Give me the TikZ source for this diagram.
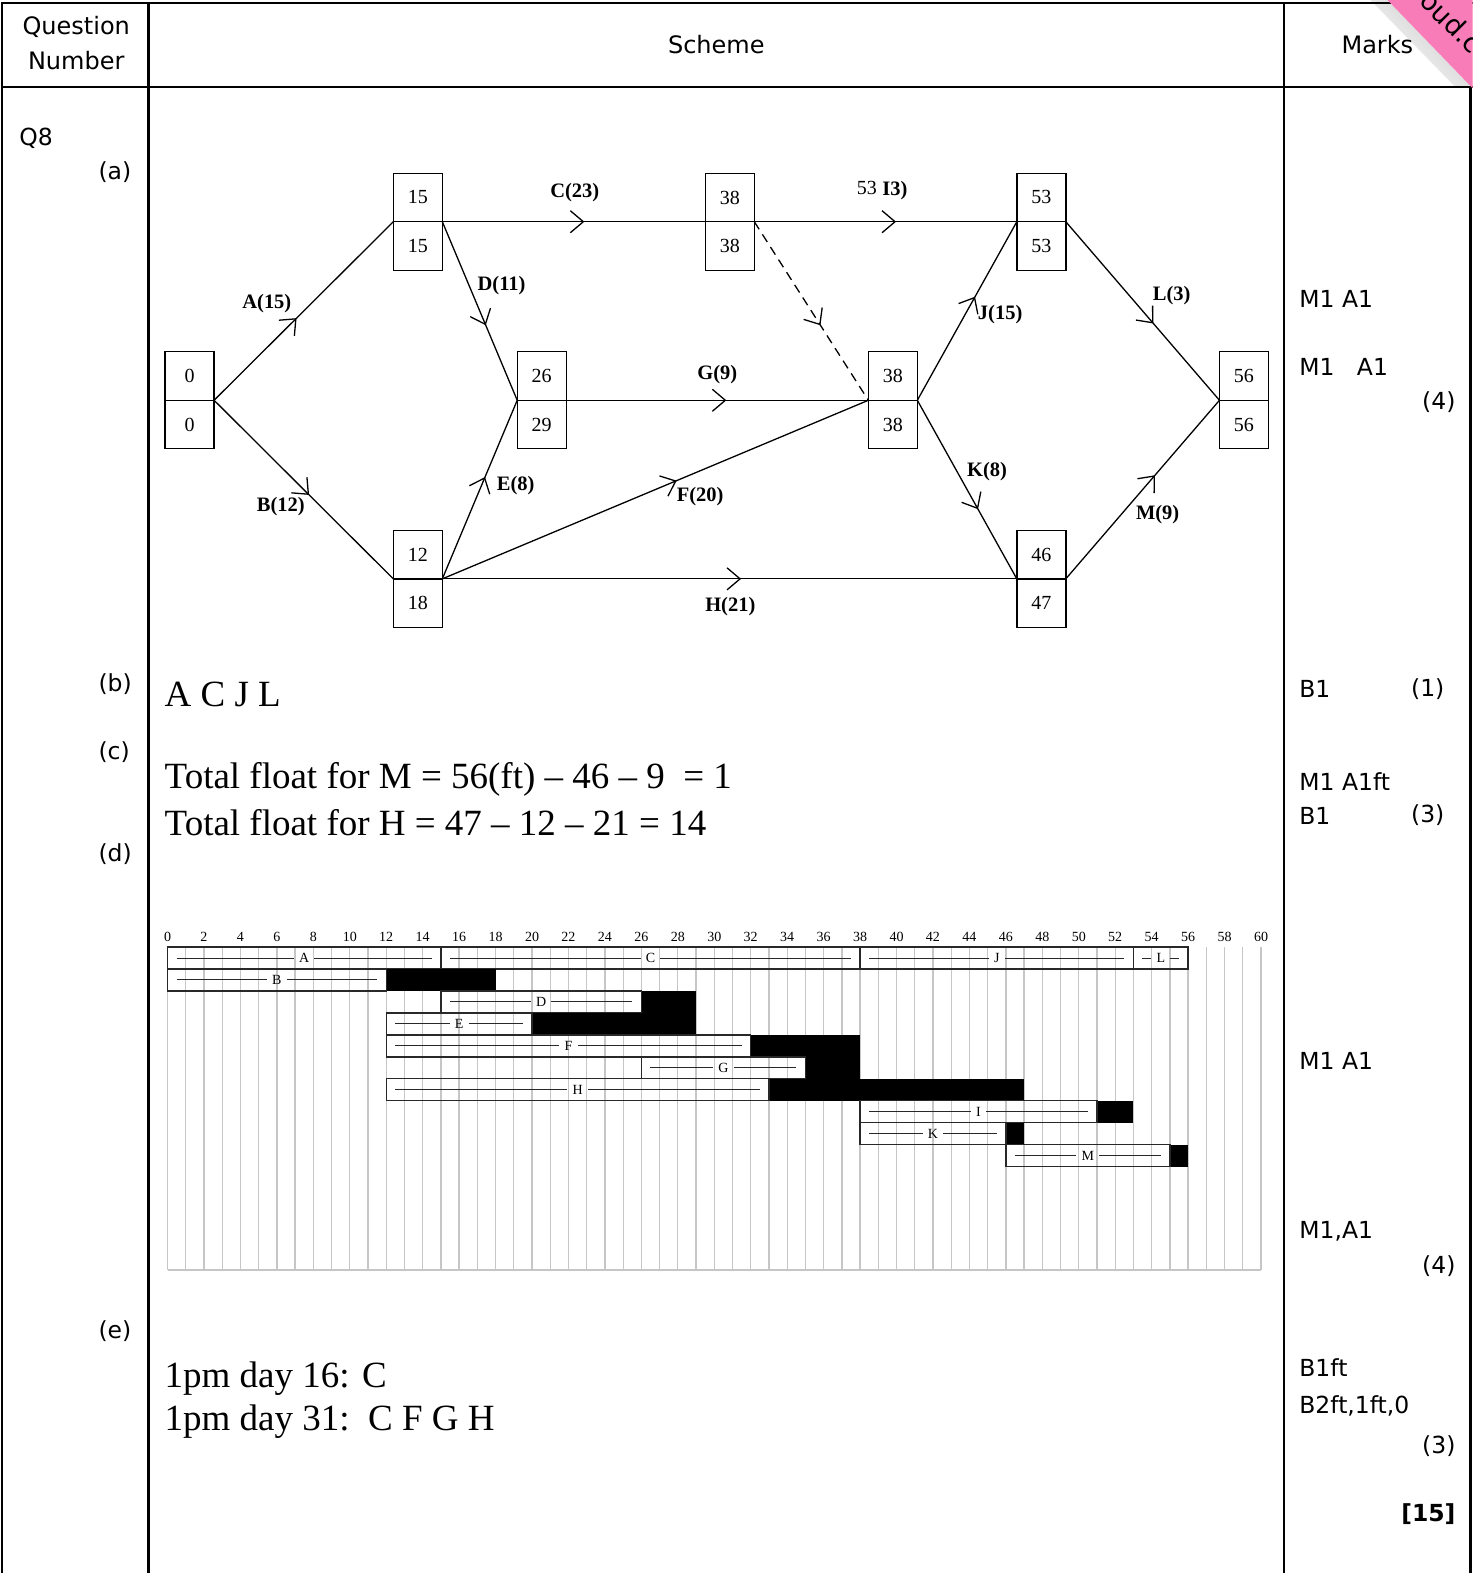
\documentclass[tikz,border=0pt]{standalone}
\usepackage{fontspec}
\setmainfont{Liberation Serif}
\setsansfont{DejaVu Sans}
\usetikzlibrary{arrows.meta,decorations.markings}
\definecolor{pinkw}{RGB}{248,124,184}
\definecolor{gridc}{RGB}{198,198,198}
\definecolor{barc}{RGB}{40,40,40}
\newcommand\evnode[5]{%
  \node[evbox, anchor=south] (#1t) at (#2,#3) {#4};
  \node[evbox, anchor=north] (#1b) at (#2,#3) {#5};
}
\newcommand\gbar[5]{%
  \pgfmathsetmacro\gya{944+21.9*(#1-1)}%
  \pgfmathsetmacro\gyb{\gya+21.9}%
  \pgfmathsetmacro\gym{\gya+10.95}%
  \pgfmathsetmacro\gxa{167+18.167*#2}%
  \pgfmathsetmacro\gxb{167+18.167*#3}%
  \pgfmathsetmacro\gxc{167+18.167*#5}%
  \pgfmathsetmacro\gxm{(\gxa+\gxb)/2}%
  \fill[black] (\gxb,\gya) rectangle (\gxc,\gyb);
  \draw[barbox] (\gxa,\gya) rectangle (\gxb,\gyb);
  \node[barlbl] (g#4) at (\gxm,\gym) {#4};
  \draw[barln] (\gxa+9,\gym) -- (g#4.west);
  \draw[barln] (g#4.east) -- (\gxb-9,\gym);
}
\begin{document}
\begin{tikzpicture}[x=1.0034pt,y=-1.0034pt,
  tbl/.style={line width=2.4pt},
  evbox/.style={draw, line width=1.4pt, minimum width=49pt, minimum height=48.5pt, inner sep=0pt, outer sep=0pt, font=\fontsize{20}{20}\selectfont},
  act/.style={line width=1.3pt, postaction=decorate,
    decoration={markings, mark=at position #1 with {\arrow{Straight Barb[length=13pt,width=22pt]}}}},
  act/.default=0.55,
  lbl/.style={font=\bfseries\fontsize{20.5}{20.5}\selectfont, inner sep=0pt},
  hdr/.style={font=\sffamily\fontsize{24}{30}\selectfont, inner sep=0pt},
  mk/.style={font=\sffamily\fontsize{23.5}{28}\selectfont, inner sep=0pt, anchor=west},
  mkr/.style={mk, anchor=east},
  ans/.style={font=\fontsize{37}{44}\selectfont, inner sep=0pt, anchor=west},
  gridln/.style={draw=gridc, line width=1.3pt},
  barbox/.style={draw=barc, line width=1.3pt},
  barln/.style={draw=barc, line width=1pt},
  barlbl/.style={font=\fontsize{14}{14}\selectfont, inner sep=5pt},
  gnum/.style={font=\fontsize{14}{14}\selectfont, inner sep=0pt}
]
\useasboundingbox (0,0) rectangle (1468,1568);
% ---------- corner shadow (behind everything) ----------
\shade[shading=axis, top color=black!22, bottom color=white, shading angle=-45]
  (1366,0) -- (1383,0) -- (1466,86) -- (1450,86) -- cycle;
% ---------- table ----------
\draw[tbl] (1,3) -- (1468,3);
\draw[tbl] (2,2) -- (2,1568);
\draw[tbl] (148,2) -- (148,1568);
\draw[tbl] (1280,2) -- (1280,1568);
\draw[tbl] (1,87) -- (1468,87);
\draw[tbl] (1466,87) -- (1466,1568);
% header
\node[hdr] (hq) at (76,27) {Question};
\node[hdr] (hn) at (76,60) {Number};
\node[hdr] (hs) at (714,44) {Scheme};
\node[hdr] (hm) at (1373,44) {Marks};
% part labels
\node[mk] (q8) at (19,138) {Q8};
\node[mk] (pa) at (98,172) {(a)};
\node[mk] (pb) at (98,682) {(b)};
\node[mk] (pc) at (98,750) {(c)};
\node[mk] (pd) at (98,851) {(d)};
\node[mk] (pe) at (98,1327) {(e)};
% ---------- network ----------
\evnode{n0}{189}{399}{0}{0}
\evnode{n15}{416.5}{221}{15}{15}
\evnode{n38a}{727.5}{221}{38}{38}
\evnode{n53}{1038}{221}{53}{53}
\evnode{n26}{540}{399}{26}{29}
\evnode{n38b}{890}{399}{38}{38}
\evnode{n56}{1240}{399}{56}{56}
\evnode{n12}{416.5}{577}{12}{18}
\evnode{n46}{1038}{577}{46}{47}
\draw[act=0.46] (n0t.south east) -- (n15t.south west);
\draw[act=0.53] (n0t.south east) -- (n12t.south west);
\draw[act=0.54] (n15t.south east) -- (n38at.south west);
\draw[act=0.58] (n15t.south east) -- (n26t.south west);
\draw[act=0.57] (n12t.south east) -- (n26t.south west);
\draw[act=0.55] (n12t.south east) -- (n38bt.south west);
\draw[act=0.52] (n12t.south east) -- (n46t.south west);
\draw[act=0.53] (n26t.south east) -- (n38bt.south west);
\draw[act=0.58, dash pattern=on 9pt off 6pt] (n38at.south east) -- (n38bt.south west);
\draw[act=0.54] (n38at.south east) -- (n53t.south west);
\draw[act=0.58] (n38bt.south east) -- (n53t.south west);
\draw[act=0.61] (n38bt.south east) -- (n46t.south west);
\draw[act=0.57] (n53t.south east) -- (n56t.south west);
\draw[act=0.58] (n46t.south east) -- (n56t.south west);
\node[lbl] (la) at (266,303) {A(15)};
\node[lbl] (lb) at (280,505) {B(12)};
\node[lbl] (lc) at (573,192) {C(23)};
\node[lbl] (ld) at (500,285) {D(11)};
\node[lbl] (le) at (514,484) {E(8)};
\node[lbl] (lf) at (698,495) {F(20)};
\node[lbl] (lg) at (715,373) {G(9)};
\node[lbl] (lh) at (728,605) {H(21)};
\node[inner sep=0pt, font=\fontsize{20}{20}\selectfont] (li1) at (864,187) {53};
\node[lbl] (li2) at (892,190) {I3)};
\node[lbl] (lj) at (997,314) {J(15)};
\node[lbl] (lk) at (984,470) {K(8)};
\node[lbl] (ll) at (1168,295) {L(3)};
\node[lbl] (lm) at (1154,513) {M(9)};
% ---------- answers ----------
\node[ans] (ab) at (164,692) {A C J L};
\node[ans] (ac1) at (164,777) {Total float for M = 56(ft) – 46 – 9\ \ = 1};
\node[ans] (ac2) at (164,820) {Total float for H = 47 – 12 – 21 = 14};
\node[ans] (ae1) at (164,1374) {1pm day 16: C};
\node[ans] (ae2) at (164,1417) {1pm day 31:\ \ C F G H};
% ---------- gantt ----------
\foreach \t in {0,...,60} {
  \draw[gridln] ({167+18.167*\t},944) -- ({167+18.167*\t},1266);
}
\draw[gridln] (167,1266) -- (1257,1266);
\foreach \t in {0,2,...,60} {
  \node[gnum] (gn\t) at ({167+18.167*\t},934) {\t};
}
\gbar{1}{0}{15}{A}{15}
\gbar{1}{15}{38}{C}{38}
\gbar{1}{38}{53}{J}{53}
\gbar{1}{53}{56}{L}{56}
\gbar{2}{0}{12}{B}{18}
\gbar{3}{15}{26}{D}{29}
\gbar{4}{12}{20}{E}{29}
\gbar{5}{12}{32}{F}{38}
\gbar{6}{26}{35}{G}{38}
\gbar{7}{12}{33}{H}{47}
\gbar{8}{38}{51}{I}{53}
\gbar{9}{38}{46}{K}{47}
\gbar{10}{46}{55}{M}{56}
% ---------- marks ----------
\node[mk] (m1) at (1295,298) {M1 A1};
\node[mk] (m2) at (1295,366) {M1\ \ \ A1};
\node[mkr] (m3) at (1451,401) {(4)};
\node[mk] (m4) at (1295,687) {B1};
\node[mkr] (m5) at (1440,687) {(1)};
\node[mk] (m6) at (1295,779) {M1 A1ft};
\node[mk] (m7) at (1295,813) {B1};
\node[mkr] (m8) at (1440,813) {(3)};
\node[mk] (m9) at (1295,1058) {M1 A1};
\node[mk] (m10) at (1295,1227) {M1,A1};
\node[mkr] (m11) at (1451,1262) {(4)};
\node[mk] (m12) at (1295,1363) {B1ft};
\node[mk] (m13) at (1295,1401) {B2ft,1ft,0};
\node[mkr] (m14) at (1451,1442) {(3)};
\node[mkr, font=\sffamily\bfseries\fontsize{23.5}{28}\selectfont] (m15) at (1451,1509) {[15]};
% ---------- corner watermark ----------
\fill[pinkw] (1383,0) -- (1468,0) -- (1468,88) -- cycle;
\begin{scope}
  \clip (1383,0) -- (1468,0) -- (1468,88) -- cycle;
  \node[font=\sffamily\fontsize{27}{27}\selectfont, inner sep=0pt, rotate=-45] (wm) at (1447,22) {oud.c};
\end{scope}
\end{tikzpicture}
\end{document}
